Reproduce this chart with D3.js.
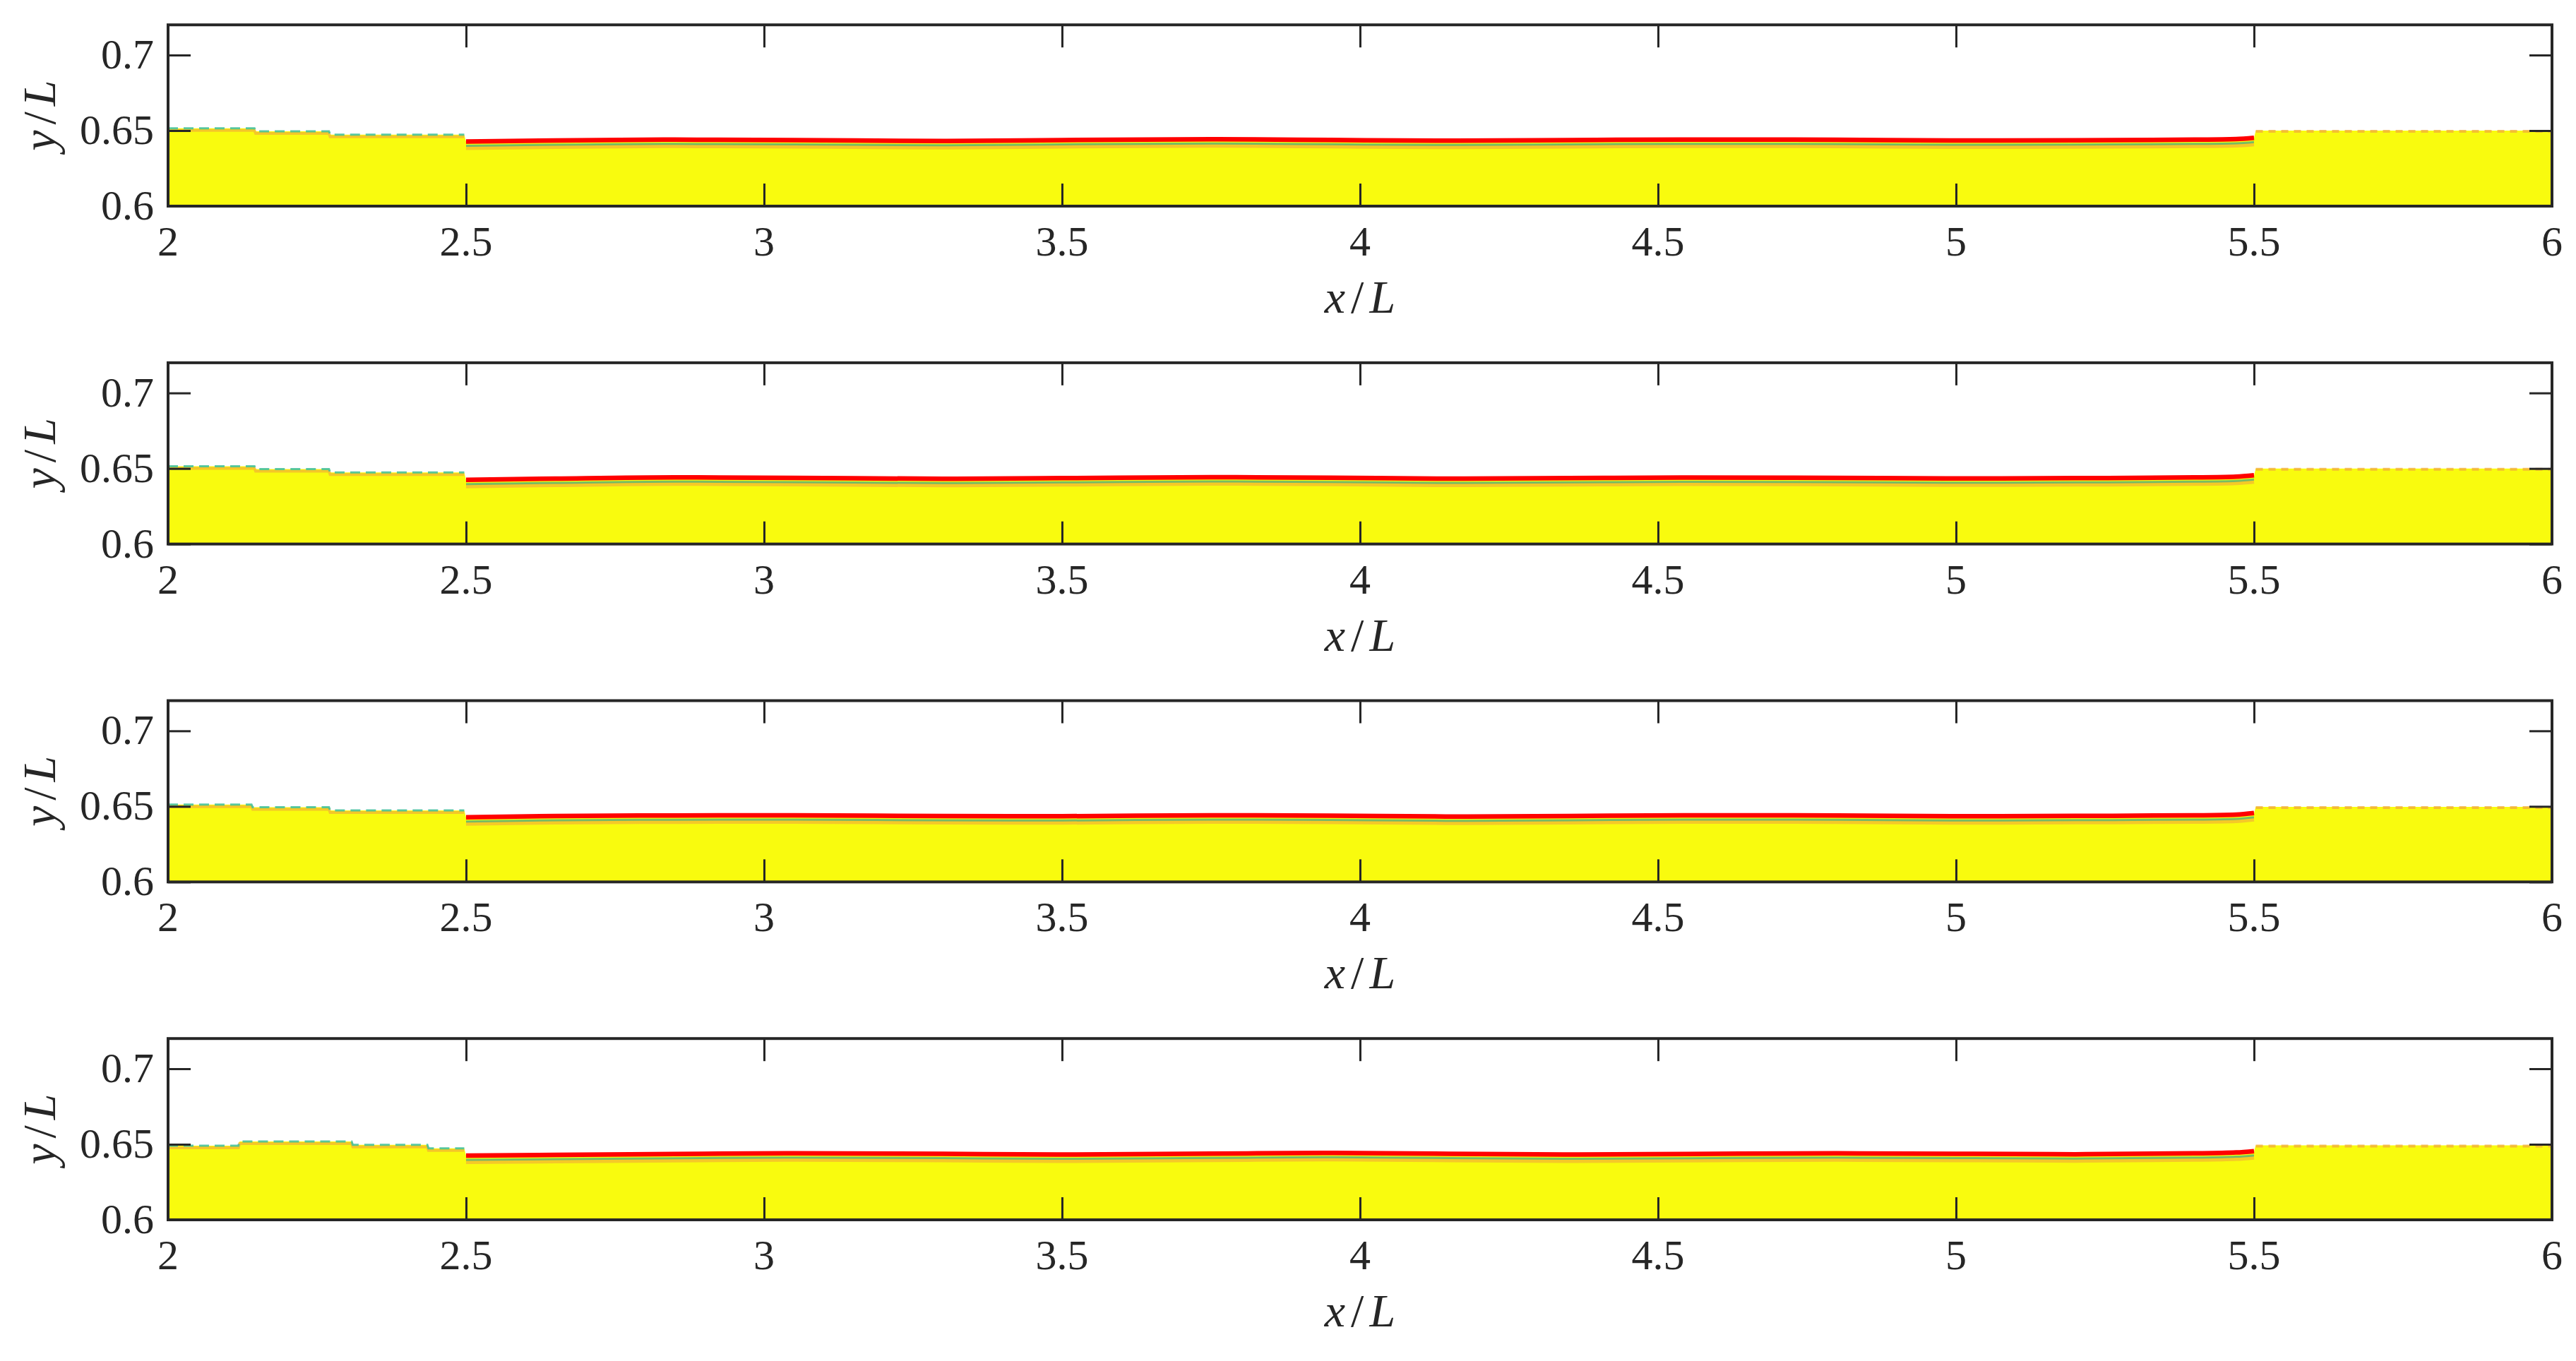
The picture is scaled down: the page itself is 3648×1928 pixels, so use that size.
<!DOCTYPE html>
<html>
<head>
<meta charset="utf-8">
<script src="https://cdn.jsdelivr.net/npm/d3@7"></script>
<style>
  html, body { margin: 0; padding: 0; background: #ffffff; }
  svg { display: block; }
</style>
</head>
<body>
<script>
// ---------------- data ----------------
const xTicks = [2, 2.5, 3, 3.5, 4, 4.5, 5, 5.5, 6];
const yTicks = [0.6, 0.65, 0.7];
const xTickLabels = ["2", "2.5", "3", "3.5", "4", "4.5", "5", "5.5", "6"];
const yTickLabels = ["0.6", "0.65", "0.7"];
const xDomain = [2, 6];
const yDomain = [0.6, 0.72];

// left inlet section (x in [2, 2.5]) : free-surface height per panel
const leftX1 = [2.0, 2.145, 2.147, 2.27, 2.272, 2.497];
const leftY1 = [0.6515, 0.6515, 0.6495, 0.6495, 0.6473, 0.6473];
const leftX2 = [2.0, 2.145, 2.147, 2.27, 2.272, 2.497];
const leftY2 = [0.6515, 0.6515, 0.6496, 0.6496, 0.6474, 0.6474];
const leftX3 = [2.0, 2.14, 2.142, 2.27, 2.272, 2.497];
const leftY3 = [0.6512, 0.6512, 0.6494, 0.6494, 0.6473, 0.6473];
const leftX4 = [2.0, 2.118, 2.12, 2.308, 2.31, 2.435, 2.437, 2.497];
const leftY4 = [0.6491, 0.6491, 0.6519, 0.6519, 0.6496, 0.6496, 0.6473, 0.6473];

// middle section (x in [2.5, 5.5]) : red interface line per panel
const midX = [2.5, 2.65, 2.85, 3.05, 3.3, 3.5, 3.75, 3.95, 4.15, 4.35, 4.55, 4.8, 5.0, 5.2, 5.4, 5.47, 5.5];
const midY1 = [0.6428, 0.6435, 0.6440, 0.6437, 0.6431, 0.6437, 0.6443, 0.6438, 0.6433, 0.6437, 0.6441, 0.6439, 0.6434, 0.6436, 0.6440, 0.6444, 0.6452];
const midY2 = [0.6425, 0.6433, 0.6441, 0.6438, 0.6432, 0.6436, 0.6442, 0.6439, 0.6433, 0.6436, 0.6440, 0.6438, 0.6434, 0.6436, 0.6441, 0.6446, 0.6455];
const midY3 = [0.6428, 0.6436, 0.6440, 0.6441, 0.6436, 0.6435, 0.6441, 0.6439, 0.6433, 0.6436, 0.6441, 0.6440, 0.6435, 0.6437, 0.6441, 0.6446, 0.6456];
const midY4 = [0.6425, 0.6430, 0.6436, 0.6441, 0.6437, 0.6432, 0.6438, 0.6443, 0.6437, 0.6432, 0.6436, 0.6440, 0.6437, 0.6434, 0.6440, 0.6446, 0.6455];

// right outlet section (x in [5.5, 6])
const rightX = [5.503, 6.0];
const rightY1 = [0.6500, 0.6500];
const rightY2 = [0.6500, 0.6500];
const rightY3 = [0.6497, 0.6497];
const rightY4 = [0.6493, 0.6493];

const panels = [
  { lx: leftX1, ly: leftY1, my: midY1, ry: rightY1 },
  { lx: leftX2, ly: leftY2, my: midY2, ry: rightY2 },
  { lx: leftX3, ly: leftY3, my: midY3, ry: rightY3 },
  { lx: leftX4, ly: leftY4, my: midY4, ry: rightY4 }
];

// ---------------- layout ----------------
const W = 3648, H = 1928;
const plotLeft = 238, plotRight = 3614;
const firstBottom = 292, panelStep = 478.67, panelH = 256.8;
const tickLen = 32;
const fontFamily = "'Liberation Serif', 'DejaVu Serif', serif";
const tickFont = 60, labelFont = 66;
const axisColor = "#262626";
const fillColor = "#F9FB0E";

const svg = d3.select("body").append("svg")
  .attr("width", W).attr("height", H)
  .attr("viewBox", `0 0 ${W} ${H}`);
svg.append("rect").attr("width", W).attr("height", H).attr("fill", "#fff");

const x = d3.scaleLinear().domain(xDomain).range([plotLeft, plotRight]);

panels.forEach((p, i) => {
  const bottom = firstBottom + i * panelStep;
  const top = bottom - panelH;
  const y = d3.scaleLinear().domain(yDomain).range([bottom, top]);
  const g = svg.append("g");

  const clipId = "clip" + i;
  svg.append("defs").append("clipPath").attr("id", clipId)
    .append("rect").attr("x", plotLeft).attr("y", top)
    .attr("width", plotRight - plotLeft).attr("height", panelH);

  const plot = g.append("g").attr("clip-path", `url(#${clipId})`);

  const left = p.lx.map((v, k) => [v, p.ly[k]]);
  const mid = midX.map((v, k) => [v, p.my[k]]);
  const right = rightX.map((v, k) => [v, p.ry[k]]);
  const all = left.concat(mid, right);

  const area = d3.area().x(d => x(d[0])).y0(y(yDomain[0])).y1(d => y(d[1]));
  const line = d3.line().x(d => x(d[0])).y(d => y(d[1]));
  const smooth = d3.line().x(d => x(d[0])).y(d => y(d[1])).curve(d3.curveMonotoneX);

  // yellow liquid region
  plot.append("path").datum(all).attr("d", area).attr("fill", fillColor);

  // surface fringes in inlet/outlet sections
  plot.append("path").datum(left).attr("d", line)
    .attr("fill", "none").attr("stroke", "#F2B134").attr("stroke-width", 4)
    .attr("stroke-opacity", 0.7).attr("transform", "translate(0,3)");
  plot.append("path").datum(left).attr("d", line)
    .attr("fill", "none").attr("stroke", "#3DBE9A").attr("stroke-width", 3)
    .attr("stroke-dasharray", "14,8").attr("stroke-opacity", 0.85);
  plot.append("path").datum(right).attr("d", line)
    .attr("fill", "none").attr("stroke", "#F2A93B").attr("stroke-width", 4)
    .attr("stroke-dasharray", "10,8").attr("stroke-opacity", 0.75)
    .attr("transform", "translate(0,1)");

  // fringes below the interface in the middle section
  plot.append("path").datum(mid).attr("d", smooth)
    .attr("fill", "none").attr("stroke", "#F2A93B").attr("stroke-width", 6)
    .attr("stroke-opacity", 0.6).attr("transform", "translate(0,9)");
  plot.append("path").datum(mid).attr("d", smooth)
    .attr("fill", "none").attr("stroke", "#3FAF80").attr("stroke-width", 3)
    .attr("stroke-opacity", 0.7).attr("transform", "translate(0,6)");
  // red interface line
  plot.append("path").datum(mid).attr("d", smooth)
    .attr("fill", "none").attr("stroke", "#FF0000").attr("stroke-width", 6.5);

  // box
  g.append("rect").attr("x", plotLeft).attr("y", top)
    .attr("width", plotRight - plotLeft).attr("height", panelH)
    .attr("fill", "none").attr("stroke", axisColor).attr("stroke-width", 4);

  // axes via d3 axis generators (inward ticks)
  const xb = g.append("g").attr("transform", `translate(0,${bottom})`)
    .call(d3.axisTop(x).tickValues(xTicks).tickSize(tickLen).tickFormat(""));
  const xt = g.append("g").attr("transform", `translate(0,${top})`)
    .call(d3.axisBottom(x).tickValues(xTicks).tickSize(tickLen).tickFormat(""));
  const yl = g.append("g").attr("transform", `translate(${plotLeft},0)`)
    .call(d3.axisRight(y).tickValues(yTicks).tickSize(tickLen).tickFormat(""));
  const yr = g.append("g").attr("transform", `translate(${plotRight},0)`)
    .call(d3.axisLeft(y).tickValues(yTicks).tickSize(tickLen).tickFormat(""));
  [xb, xt, yl, yr].forEach(a => {
    a.select(".domain").remove();
    a.selectAll("line").attr("stroke", axisColor).attr("stroke-width", 3);
  });

  // tick labels
  g.selectAll(".xl").data(xTicks).enter().append("text")
    .attr("x", d => x(d)).attr("y", bottom + 70)
    .attr("text-anchor", "middle")
    .attr("font-family", fontFamily).attr("font-size", tickFont).attr("fill", "#262626")
    .text((d, k) => xTickLabels[k]);
  g.selectAll(".yl").data(yTicks).enter().append("text")
    .attr("x", plotLeft - 20).attr("y", d => y(d) + 19)
    .attr("text-anchor", "end")
    .attr("font-family", fontFamily).attr("font-size", tickFont).attr("fill", "#262626")
    .text((d, k) => yTickLabels[k]);

  // x label
  const xlab = g.append("text")
    .attr("x", (plotLeft + plotRight) / 2).attr("y", bottom + 151)
    .attr("text-anchor", "middle")
    .attr("font-family", fontFamily).attr("font-size", labelFont).attr("fill", "#262626");
  xlab.append("tspan").attr("font-style", "italic").text("x");
  xlab.append("tspan").attr("dx", 8).text("/");
  xlab.append("tspan").attr("dx", 8).attr("font-style", "italic").text("L");

  // y label
  const cy = (top + bottom) / 2;
  const ylab = g.append("text")
    .attr("transform", `translate(78,${cy}) rotate(-90)`)
    .attr("text-anchor", "middle")
    .attr("font-family", fontFamily).attr("font-size", labelFont).attr("fill", "#262626");
  ylab.append("tspan").attr("font-style", "italic").text("y");
  ylab.append("tspan").attr("dx", 8).text("/");
  ylab.append("tspan").attr("dx", 8).attr("font-style", "italic").text("L");
});
</script>
</body>
</html>
